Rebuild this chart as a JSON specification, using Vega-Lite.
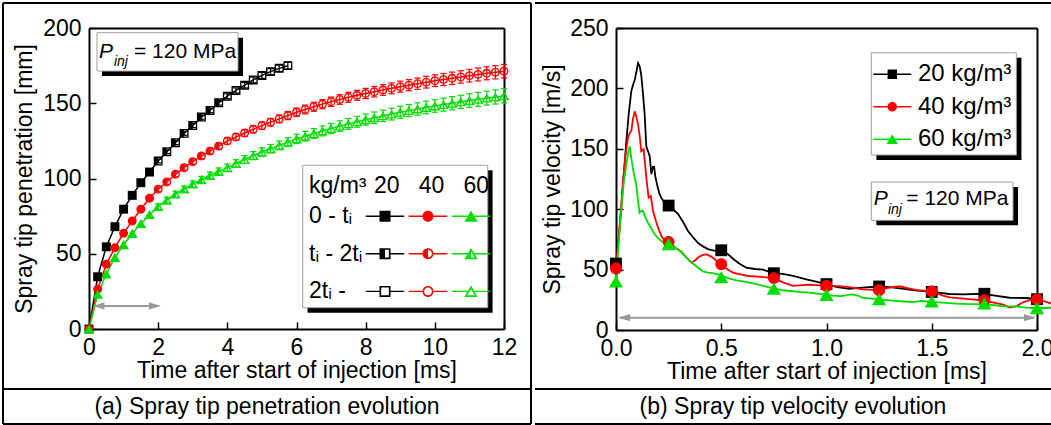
{
  "$schema": "https://vega.github.io/schema/vega-lite/v6.json",
  "background": "white",
  "padding": {"left": 1, "top": 1, "right": 0, "bottom": 0},
  "spacing": 0,
  "datasets": {
    "pen": [
      {"d":"20","t":0,"v":0,"ph":"a","e":0},{"d":"20","t":0.25,"v":34.7,"ph":"a","e":0},{"d":"20","t":0.5,"v":54.6,"ph":"a","e":0},{"d":"20","t":0.75,"v":68,"ph":"a","e":0},{"d":"20","t":1,"v":79.6,"ph":"a","e":0},{"d":"20","t":1.25,"v":88.8,"ph":"a","e":0},{"d":"20","t":1.5,"v":97.2,"ph":"a","e":0},{"d":"20","t":1.75,"v":104.3,"ph":"a","e":0},
      {"d":"20","t":2,"v":111.6,"ph":"b","e":1.2},{"d":"20","t":2.25,"v":117.8,"ph":"b","e":1.2},{"d":"20","t":2.5,"v":123.8,"ph":"b","e":1.3},{"d":"20","t":2.75,"v":130,"ph":"b","e":1.3},{"d":"20","t":3,"v":135.2,"ph":"b","e":1.4},{"d":"20","t":3.25,"v":140.8,"ph":"b","e":1.4},{"d":"20","t":3.5,"v":145.2,"ph":"b","e":1.5},{"d":"20","t":3.75,"v":150.3,"ph":"b","e":1.5},
      {"d":"20","t":4,"v":154.7,"ph":"c","e":1.6},{"d":"20","t":4.25,"v":158.5,"ph":"c","e":1.7},{"d":"20","t":4.5,"v":162,"ph":"c","e":1.8},{"d":"20","t":4.75,"v":165.5,"ph":"c","e":1.9},{"d":"20","t":5,"v":168.5,"ph":"c","e":2},{"d":"20","t":5.25,"v":171,"ph":"c","e":2},{"d":"20","t":5.5,"v":173.2,"ph":"c","e":2.1},{"d":"20","t":5.75,"v":175,"ph":"c","e":2.2},
      {"d":"40","t":0,"v":0,"ph":"a","e":0},{"d":"40","t":0.25,"v":26.5,"ph":"a","e":0},{"d":"40","t":0.5,"v":43,"ph":"a","e":0},{"d":"40","t":0.75,"v":54,"ph":"a","e":0},{"d":"40","t":1,"v":63.6,"ph":"a","e":0},{"d":"40","t":1.25,"v":71.8,"ph":"a","e":0},{"d":"40","t":1.5,"v":79.6,"ph":"a","e":0},{"d":"40","t":1.75,"v":86.9,"ph":"a","e":0},
      {"d":"40","t":2,"v":92.8,"ph":"b","e":1.5},{"d":"40","t":2.25,"v":97.7,"ph":"b","e":1.6},{"d":"40","t":2.5,"v":102.8,"ph":"b","e":1.7},{"d":"40","t":2.75,"v":107.2,"ph":"b","e":1.7},{"d":"40","t":3,"v":111.2,"ph":"b","e":1.8},{"d":"40","t":3.25,"v":114.9,"ph":"b","e":1.9},{"d":"40","t":3.5,"v":118.2,"ph":"b","e":2},{"d":"40","t":3.75,"v":121.5,"ph":"b","e":2},
      {"d":"40","t":4,"v":124.9,"ph":"c","e":2.1},{"d":"40","t":4.25,"v":127.6,"ph":"c","e":2.2},{"d":"40","t":4.5,"v":130.2,"ph":"c","e":2.3},{"d":"40","t":4.75,"v":132.7,"ph":"c","e":2.4},{"d":"40","t":5,"v":135.1,"ph":"c","e":2.5},{"d":"40","t":5.25,"v":137.4,"ph":"c","e":2.5},{"d":"40","t":5.5,"v":139.6,"ph":"c","e":2.6},{"d":"40","t":5.75,"v":141.8,"ph":"c","e":2.7},
      {"d":"40","t":6,"v":144,"ph":"c","e":2.8},{"d":"40","t":6.25,"v":145.9,"ph":"c","e":2.9},{"d":"40","t":6.5,"v":147.7,"ph":"c","e":3},{"d":"40","t":6.75,"v":149.4,"ph":"c","e":3},{"d":"40","t":7,"v":151,"ph":"c","e":3.1},{"d":"40","t":7.25,"v":152.5,"ph":"c","e":3.2},{"d":"40","t":7.5,"v":154,"ph":"c","e":3.3},{"d":"40","t":7.75,"v":155.3,"ph":"c","e":3.3},
      {"d":"40","t":8,"v":156.5,"ph":"c","e":3.4},{"d":"40","t":8.25,"v":157.7,"ph":"c","e":3.5},{"d":"40","t":8.5,"v":158.8,"ph":"c","e":3.5},{"d":"40","t":8.75,"v":159.9,"ph":"c","e":3.6},{"d":"40","t":9,"v":161,"ph":"c","e":3.7},{"d":"40","t":9.25,"v":162,"ph":"c","e":3.7},{"d":"40","t":9.5,"v":163,"ph":"c","e":3.8},{"d":"40","t":9.75,"v":164,"ph":"c","e":3.9},
      {"d":"40","t":10,"v":165,"ph":"c","e":3.9},{"d":"40","t":10.25,"v":165.8,"ph":"c","e":4},{"d":"40","t":10.5,"v":166.6,"ph":"c","e":4.1},{"d":"40","t":10.75,"v":167.5,"ph":"c","e":4.1},{"d":"40","t":11,"v":168.3,"ph":"c","e":4.2},{"d":"40","t":11.25,"v":169.1,"ph":"c","e":4.3},{"d":"40","t":11.5,"v":169.9,"ph":"c","e":4.3},{"d":"40","t":11.75,"v":170.6,"ph":"c","e":4.4},{"d":"40","t":12,"v":171.3,"ph":"c","e":4.5},
      {"d":"60","t":0,"v":0,"ph":"a","e":0},{"d":"60","t":0.25,"v":23,"ph":"a","e":0},{"d":"60","t":0.5,"v":36.5,"ph":"a","e":0},{"d":"60","t":0.75,"v":47.5,"ph":"a","e":0},{"d":"60","t":1,"v":56,"ph":"a","e":0},{"d":"60","t":1.25,"v":63.5,"ph":"a","e":0},{"d":"60","t":1.5,"v":70,"ph":"a","e":0},{"d":"60","t":1.75,"v":76,"ph":"a","e":0},
      {"d":"60","t":2,"v":81.3,"ph":"b","e":1.8},{"d":"60","t":2.25,"v":85.6,"ph":"b","e":1.9},{"d":"60","t":2.5,"v":89.6,"ph":"b","e":2},{"d":"60","t":2.75,"v":93,"ph":"b","e":2},{"d":"60","t":3,"v":96.3,"ph":"b","e":2.1},{"d":"60","t":3.25,"v":99.2,"ph":"b","e":2.2},{"d":"60","t":3.5,"v":102,"ph":"b","e":2.3},{"d":"60","t":3.75,"v":104.7,"ph":"b","e":2.3},
      {"d":"60","t":4,"v":107.2,"ph":"c","e":2.4},{"d":"60","t":4.25,"v":110,"ph":"c","e":2.5},{"d":"60","t":4.5,"v":112.6,"ph":"c","e":2.6},{"d":"60","t":4.75,"v":115.2,"ph":"c","e":2.7},{"d":"60","t":5,"v":117.6,"ph":"c","e":2.8},{"d":"60","t":5.25,"v":119.8,"ph":"c","e":2.8},{"d":"60","t":5.5,"v":122,"ph":"c","e":2.9},{"d":"60","t":5.75,"v":124.2,"ph":"c","e":3},
      {"d":"60","t":6,"v":126.3,"ph":"c","e":3.1},{"d":"60","t":6.25,"v":128.1,"ph":"c","e":3.2},{"d":"60","t":6.5,"v":129.9,"ph":"c","e":3.3},{"d":"60","t":6.75,"v":131.6,"ph":"c","e":3.3},{"d":"60","t":7,"v":133.2,"ph":"c","e":3.4},{"d":"60","t":7.25,"v":134.8,"ph":"c","e":3.5},{"d":"60","t":7.5,"v":136.3,"ph":"c","e":3.6},{"d":"60","t":7.75,"v":137.7,"ph":"c","e":3.6},
      {"d":"60","t":8,"v":139.1,"ph":"c","e":3.7},{"d":"60","t":8.25,"v":140.4,"ph":"c","e":3.8},{"d":"60","t":8.5,"v":141.6,"ph":"c","e":3.8},{"d":"60","t":8.75,"v":142.8,"ph":"c","e":3.9},{"d":"60","t":9,"v":144,"ph":"c","e":4},{"d":"60","t":9.25,"v":145.1,"ph":"c","e":4},{"d":"60","t":9.5,"v":146.2,"ph":"c","e":4.1},{"d":"60","t":9.75,"v":147.2,"ph":"c","e":4.2},
      {"d":"60","t":10,"v":148.2,"ph":"c","e":4.2},{"d":"60","t":10.25,"v":149.1,"ph":"c","e":4.3},{"d":"60","t":10.5,"v":150,"ph":"c","e":4.4},{"d":"60","t":10.75,"v":150.9,"ph":"c","e":4.4},{"d":"60","t":11,"v":151.8,"ph":"c","e":4.5},{"d":"60","t":11.25,"v":152.6,"ph":"c","e":4.6},{"d":"60","t":11.5,"v":153.4,"ph":"c","e":4.6},{"d":"60","t":11.75,"v":154.2,"ph":"c","e":4.7},{"d":"60","t":12,"v":155,"ph":"c","e":4.8}
    ],
    "velL": [
      {"d":"20","t":0,"v":55},{"d":"20","t":0.012,"v":75},{"d":"20","t":0.025,"v":101},{"d":"20","t":0.037,"v":128},{"d":"20","t":0.049,"v":156},{"d":"20","t":0.061,"v":180},{"d":"20","t":0.073,"v":198},{"d":"20","t":0.081,"v":203},{"d":"20","t":0.089,"v":207},{"d":"20","t":0.097,"v":214},{"d":"20","t":0.105,"v":221},{"d":"20","t":0.113,"v":218},{"d":"20","t":0.12,"v":211},{"d":"20","t":0.128,"v":196},{"d":"20","t":0.136,"v":179},{"d":"20","t":0.144,"v":152},{"d":"20","t":0.152,"v":148},{"d":"20","t":0.16,"v":144},{"d":"20","t":0.168,"v":129},{"d":"20","t":0.175,"v":135},{"d":"20","t":0.181,"v":135},{"d":"20","t":0.187,"v":127},{"d":"20","t":0.193,"v":122},{"d":"20","t":0.2,"v":117},{"d":"20","t":0.207,"v":112.5},{"d":"20","t":0.22,"v":108},{"d":"20","t":0.232,"v":105.5},{"d":"20","t":0.25,"v":103},{"d":"20","t":0.27,"v":100},{"d":"20","t":0.295,"v":96},{"d":"20","t":0.32,"v":89},{"d":"20","t":0.342,"v":82},{"d":"20","t":0.365,"v":77},{"d":"20","t":0.39,"v":72},{"d":"20","t":0.415,"v":69},{"d":"20","t":0.437,"v":67},{"d":"20","t":0.46,"v":66},{"d":"20","t":0.485,"v":65.5},{"d":"20","t":0.5,"v":66},{"d":"20","t":0.53,"v":63},{"d":"20","t":0.556,"v":59},{"d":"20","t":0.585,"v":55},{"d":"20","t":0.619,"v":51.6},{"d":"20","t":0.66,"v":50.5},{"d":"20","t":0.698,"v":50},{"d":"20","t":0.746,"v":47},{"d":"20","t":0.79,"v":46.5},{"d":"20","t":0.825,"v":45.5},{"d":"20","t":0.86,"v":44},{"d":"20","t":0.904,"v":42},{"d":"20","t":0.95,"v":40},{"d":"20","t":1,"v":38},{"d":"20","t":1.05,"v":35.5},{"d":"20","t":1.11,"v":34},{"d":"20","t":1.17,"v":35},{"d":"20","t":1.25,"v":36},{"d":"20","t":1.3,"v":35.5},{"d":"20","t":1.35,"v":34.5},{"d":"20","t":1.42,"v":32.8},{"d":"20","t":1.46,"v":32.3},{"d":"20","t":1.5,"v":31.5},{"d":"20","t":1.585,"v":29.8},{"d":"20","t":1.65,"v":29.5},{"d":"20","t":1.743,"v":30},{"d":"20","t":1.8,"v":28.5},{"d":"20","t":1.87,"v":26.7},{"d":"20","t":1.95,"v":26.5},{"d":"20","t":2,"v":25.5},
      {"d":"40","t":0,"v":51},{"d":"40","t":0.015,"v":80},{"d":"40","t":0.033,"v":123},{"d":"40","t":0.045,"v":145},{"d":"40","t":0.057,"v":159},{"d":"40","t":0.065,"v":163},{"d":"40","t":0.073,"v":165},{"d":"40","t":0.081,"v":175},{"d":"40","t":0.089,"v":181},{"d":"40","t":0.097,"v":176},{"d":"40","t":0.105,"v":170},{"d":"40","t":0.113,"v":160},{"d":"40","t":0.12,"v":148},{"d":"40","t":0.131,"v":149.6},{"d":"40","t":0.138,"v":138},{"d":"40","t":0.144,"v":126},{"d":"40","t":0.155,"v":109.5},{"d":"40","t":0.165,"v":111},{"d":"40","t":0.176,"v":98.5},{"d":"40","t":0.19,"v":90},{"d":"40","t":0.2,"v":84.7},{"d":"40","t":0.215,"v":78},{"d":"40","t":0.231,"v":74},{"d":"40","t":0.25,"v":73},{"d":"40","t":0.27,"v":70},{"d":"40","t":0.29,"v":67},{"d":"40","t":0.31,"v":65},{"d":"40","t":0.335,"v":60},{"d":"40","t":0.358,"v":55.7},{"d":"40","t":0.375,"v":57.5},{"d":"40","t":0.39,"v":60},{"d":"40","t":0.41,"v":62},{"d":"40","t":0.43,"v":62.6},{"d":"40","t":0.45,"v":61},{"d":"40","t":0.469,"v":58.5},{"d":"40","t":0.5,"v":54.5},{"d":"40","t":0.53,"v":50},{"d":"40","t":0.556,"v":47.5},{"d":"40","t":0.58,"v":46.5},{"d":"40","t":0.63,"v":44.7},{"d":"40","t":0.69,"v":44},{"d":"40","t":0.746,"v":43},{"d":"40","t":0.8,"v":39},{"d":"40","t":0.84,"v":36.5},{"d":"40","t":0.92,"v":37.5},{"d":"40","t":1,"v":36.5},{"d":"40","t":1.06,"v":36.4},{"d":"40","t":1.11,"v":35.5},{"d":"40","t":1.17,"v":33.7},{"d":"40","t":1.245,"v":33},{"d":"40","t":1.3,"v":35},{"d":"40","t":1.347,"v":36.2},{"d":"40","t":1.39,"v":34.5},{"d":"40","t":1.43,"v":33},{"d":"40","t":1.5,"v":32},{"d":"40","t":1.553,"v":28.5},{"d":"40","t":1.585,"v":27},{"d":"40","t":1.65,"v":26},{"d":"40","t":1.743,"v":24.6},{"d":"40","t":1.8,"v":22.5},{"d":"40","t":1.84,"v":21},{"d":"40","t":1.87,"v":18.5},{"d":"40","t":1.9,"v":19.5},{"d":"40","t":1.93,"v":22.6},{"d":"40","t":1.96,"v":24.5},{"d":"40","t":2,"v":25.4},{"d":"40","t":2.04,"v":23.5},{"d":"40","t":2.076,"v":21.3},
      {"d":"60","t":0,"v":40},{"d":"60","t":0.012,"v":70},{"d":"60","t":0.025,"v":101},{"d":"60","t":0.037,"v":122},{"d":"60","t":0.049,"v":137},{"d":"60","t":0.057,"v":146},{"d":"60","t":0.065,"v":152},{"d":"60","t":0.073,"v":142},{"d":"60","t":0.081,"v":133},{"d":"60","t":0.089,"v":126},{"d":"60","t":0.096,"v":120.6},{"d":"60","t":0.104,"v":108},{"d":"60","t":0.112,"v":97},{"d":"60","t":0.12,"v":98.5},{"d":"60","t":0.128,"v":98.5},{"d":"60","t":0.14,"v":93},{"d":"60","t":0.152,"v":88.8},{"d":"60","t":0.168,"v":84},{"d":"60","t":0.184,"v":79.2},{"d":"60","t":0.2,"v":76},{"d":"60","t":0.215,"v":73.7},{"d":"60","t":0.247,"v":71},{"d":"60","t":0.27,"v":69},{"d":"60","t":0.295,"v":66.8},{"d":"60","t":0.32,"v":62.5},{"d":"60","t":0.342,"v":58.5},{"d":"60","t":0.365,"v":55},{"d":"60","t":0.39,"v":51.6},{"d":"60","t":0.413,"v":48.5},{"d":"60","t":0.437,"v":47.5},{"d":"60","t":0.46,"v":47},{"d":"60","t":0.485,"v":46},{"d":"60","t":0.508,"v":44.5},{"d":"60","t":0.54,"v":42.5},{"d":"60","t":0.572,"v":41},{"d":"60","t":0.61,"v":40},{"d":"60","t":0.65,"v":38.5},{"d":"60","t":0.7,"v":36.5},{"d":"60","t":0.746,"v":34.5},{"d":"60","t":0.79,"v":33},{"d":"60","t":0.825,"v":32.3},{"d":"60","t":0.87,"v":31.5},{"d":"60","t":0.92,"v":30.9},{"d":"60","t":0.96,"v":30},{"d":"60","t":1,"v":29},{"d":"60","t":1.03,"v":28.5},{"d":"60","t":1.07,"v":28.1},{"d":"60","t":1.12,"v":29.5},{"d":"60","t":1.15,"v":28.5},{"d":"60","t":1.17,"v":26.7},{"d":"60","t":1.245,"v":25.4},{"d":"60","t":1.3,"v":24.5},{"d":"60","t":1.35,"v":23.8},{"d":"60","t":1.41,"v":23},{"d":"60","t":1.45,"v":24},{"d":"60","t":1.5,"v":23.3},{"d":"60","t":1.55,"v":22.6},{"d":"60","t":1.617,"v":21.8},{"d":"60","t":1.68,"v":21.5},{"d":"60","t":1.743,"v":21.5},{"d":"60","t":1.8,"v":20.5},{"d":"60","t":1.84,"v":19.5},{"d":"60","t":1.9,"v":19.5},{"d":"60","t":1.95,"v":18.5},{"d":"60","t":2,"v":18},{"d":"60","t":2.04,"v":18.2},{"d":"60","t":2.076,"v":18.5}
    ],
    "velM": [
      {"d":"20","t":0,"v":55},{"d":"20","t":0.25,"v":103},{"d":"20","t":0.5,"v":66},{"d":"20","t":0.75,"v":47},{"d":"20","t":1,"v":38},{"d":"20","t":1.25,"v":36},{"d":"20","t":1.5,"v":31.5},{"d":"20","t":1.75,"v":30},{"d":"20","t":2,"v":25.5},
      {"d":"40","t":0,"v":51},{"d":"40","t":0.25,"v":73},{"d":"40","t":0.5,"v":54.5},{"d":"40","t":0.75,"v":43},{"d":"40","t":1,"v":36.5},{"d":"40","t":1.25,"v":33},{"d":"40","t":1.5,"v":32},{"d":"40","t":1.75,"v":24.6},{"d":"40","t":2,"v":25.4},
      {"d":"60","t":0,"v":40},{"d":"60","t":0.25,"v":71},{"d":"60","t":0.5,"v":43.5},{"d":"60","t":0.75,"v":34},{"d":"60","t":1,"v":29},{"d":"60","t":1.25,"v":25.4},{"d":"60","t":1.5,"v":23.5},{"d":"60","t":1.75,"v":21.8},{"d":"60","t":2,"v":18}
    ]
  },
  "hconcat": [
    {
      "width": 415,
      "height": 301,
      "resolve": {"scale": {"fill": "independent", "shape": "independent"}},
      "layer": [
        {"data": {"values": [{}]}, "mark": {"type": "rect", "fill": "black"},
         "encoding": {"x": {"datum": 0.376}, "x2": {"datum": 4.453}, "y": {"datum": 193.6}, "y2": {"datum": 168.1}}},
        {"data": {"values": [{}]}, "mark": {"type": "rect", "fill": "white", "stroke": "#a0a0a0", "strokeWidth": 1},
         "encoding": {"x": {"datum": 0.231}, "x2": {"datum": 4.308}, "y": {"datum": 196.9}, "y2": {"datum": 171.4}}},
        {"data": {"values": [{}]}, "mark": {"type": "rect", "fill": "black"},
         "encoding": {"x": {"datum": 6.32}, "x2": {"datum": 11.67}, "y": {"datum": 105.5}, "y2": {"datum": 10.8}}},
        {"data": {"values": [{}]}, "mark": {"type": "rect", "fill": "white", "stroke": "#a0a0a0", "strokeWidth": 1},
         "encoding": {"x": {"datum": 6.18}, "x2": {"datum": 11.53}, "y": {"datum": 108.8}, "y2": {"datum": 14.15}}},
        {
          "data": {"name": "pen"},
          "mark": {"type": "line", "strokeWidth": 1.5},
          "encoding": {
            "x": {"field": "t", "type": "quantitative", "scale": {"domain": [0, 12], "nice": false},
                  "axis": {"values": [0, 2, 4, 6, 8, 10, 12], "title": "Time after start of injection [ms]", "labelPadding": 14, "titlePadding": 0, "labelFlush": false, "labelOverlap": false,
                           "grid": true, "gridColor": "black", "gridWidth": 2, "gridOpacity": {"condition": {"test": "datum.value == 12", "value": 1}, "value": 0}}},
            "y": {"field": "v", "type": "quantitative", "scale": {"domain": [0, 200], "nice": false},
                  "axis": {"values": [0, 50, 100, 150, 200], "title": "Spray tip penetration [mm]", "labelPadding": 15, "titlePadding": 6, "labelFlush": false, "labelOverlap": false,
                           "grid": true, "gridColor": "black", "gridWidth": 2, "gridOpacity": {"condition": {"test": "datum.value == 200", "value": 1}, "value": 0}}},
            "color": {"field": "d", "type": "nominal", "scale": {"range": ["#000000", "#ff0000", "#00dd00"]}, "legend": null}
          }
        },
        {
          "data": {"name": "pen"},
          "transform": [{"calculate": "datum.d + datum.ph", "as": "k"}],
          "mark": {"type": "point", "filled": true, "size": 80, "strokeWidth": 0, "opacity": 1},
          "encoding": {
            "x": {"field": "t", "type": "quantitative"},
            "y": {"field": "v", "type": "quantitative"},
            "fill": {"field": "k", "type": "nominal",
              "scale": {"domain": ["20a","20b","20c","40a","40b","40c","60a","60b","60c"],
                        "range": ["#000000","#000000","#000000","#ff0000","#ff0000","#ff0000","#00dd00","#00dd00","#00dd00"]},
              "legend": null},
            "shape": {"field": "k", "type": "nominal",
              "scale": {"domain": ["20a","20b","20c","40a","40b","40c","60a","60b","60c"],
                        "range": ["M-1,-1H1V1H-1Z",
                                  "M-1,-1H1V1H-1Z M-0.7,-0.7V0.7H0.7V-0.7Z M-0.7,-0.7H0V0.7H-0.7Z",
                                  "M-1,-1H1V1H-1Z M-0.7,-0.7V0.7H0.7V-0.7Z",
                                  "M1,0A1,1 0 1,1 -1,0A1,1 0 1,1 1,0Z",
                                  "M1,0A1,1 0 1,1 -1,0A1,1 0 1,1 1,0Z M0.7,0A0.7,0.7 0 1,0 -0.7,0A0.7,0.7 0 1,0 0.7,0Z M0,-0.7A0.7,0.7 0 0,0 0,0.7Z",
                                  "M1,0A1,1 0 1,1 -1,0A1,1 0 1,1 1,0Z M0.7,0A0.7,0.7 0 1,0 -0.7,0A0.7,0.7 0 1,0 0.7,0Z",
                                  "M0,-1.05L1.2,1H-1.2Z",
                                  "M0,-1.05L1.2,1H-1.2Z M0,-0.45L-0.68,0.7H0.68Z M0,-0.45V0.7H-0.68Z",
                                  "M0,-1.05L1.2,1H-1.2Z M0,-0.45L-0.68,0.7H0.68Z"]},
              "legend": null},
            "opacity": {"field": "ph", "type": "ordinal",
              "scale": {"domain": ["a", "b", "c"], "range": [1, 1, 1]},
              "legend": {
                "orient": "none", "legendX": 220, "legendY": 146.5, "padding": 0,
                "rowPadding": 13.7, "symbolSize": 0, "symbolStrokeWidth": 0, "labelOffset": -23, "labelFontSize": 23,
                "labelExpr": "datum.value == 'a' ? '0 - tᵢ' : datum.value == 'b' ? 'tᵢ - 2tᵢ' : '2tᵢ -'",
                "title": "kg/m³", "titleFontSize": 23, "titleAnchor": "start", "titlePadding": 7
              }
            }
          }
        },
        {
          "data": {"name": "pen"},
          "transform": [{"filter": "datum.t < 0"}, {"calculate": "datum.d + datum.ph", "as": "k"}],
          "mark": {"type": "point", "filled": true, "size": 121, "strokeWidth": 0, "opacity": 1},
          "encoding": {
            "x": {"field": "t", "type": "quantitative"},
            "y": {"field": "v", "type": "quantitative"},
            "fill": {"field": "k", "type": "nominal",
              "scale": {"domain": ["20a","20b","20c","40a","40b","40c","60a","60b","60c"],
                        "range": ["#000000","#000000","#000000","#ff0000","#ff0000","#ff0000","#00dd00","#00dd00","#00dd00"]},
              "legend": {
                "orient": "none", "legendX": 284.5, "legendY": 146.5, "padding": 0,
                "columns": 3, "columnPadding": 4, "rowPadding": 13.7, "gridAlign": "all",
                "symbolSize": 121, "symbolStrokeWidth": 0,
                "labelExpr": "''", "labelOffset": 0, "labelFontSize": 23,
                "title": "20\u00a0\u00a0\u00a040\u00a0\u00a0\u00a060", "titleFontSize": 23, "titleAnchor": "middle", "titlePadding": 7
              }
            },
            "shape": {"field": "k", "type": "nominal",
              "scale": {"domain": ["20a","20b","20c","40a","40b","40c","60a","60b","60c"],
                        "range": ["M-1,-1H1V1H-1Z M-3.5,-0.13H-1V0.13H-3.5Z M1,-0.13H3.5V0.13H1Z",
                                  "M-1,-1H1V1H-1Z M-0.7,-0.7V0.7H0.7V-0.7Z M-0.7,-0.7H0V0.7H-0.7Z M-3.5,-0.13H-1V0.13H-3.5Z M1,-0.13H3.5V0.13H1Z",
                                  "M-1,-1H1V1H-1Z M-0.7,-0.7V0.7H0.7V-0.7Z M-3.5,-0.13H-1V0.13H-3.5Z M1,-0.13H3.5V0.13H1Z",
                                  "M1,0A1,1 0 1,1 -1,0A1,1 0 1,1 1,0Z M-3.5,-0.13H-1V0.13H-3.5Z M1,-0.13H3.5V0.13H1Z",
                                  "M1,0A1,1 0 1,1 -1,0A1,1 0 1,1 1,0Z M0.7,0A0.7,0.7 0 1,0 -0.7,0A0.7,0.7 0 1,0 0.7,0Z M0,-0.7A0.7,0.7 0 0,0 0,0.7Z M-3.5,-0.13H-1V0.13H-3.5Z M1,-0.13H3.5V0.13H1Z",
                                  "M1,0A1,1 0 1,1 -1,0A1,1 0 1,1 1,0Z M0.7,0A0.7,0.7 0 1,0 -0.7,0A0.7,0.7 0 1,0 0.7,0Z M-3.5,-0.13H-1V0.13H-3.5Z M1,-0.13H3.5V0.13H1Z",
                                  "M0,-1.05L1.2,1H-1.2Z M-3.5,-0.13H-0.6V0.13H-3.5Z M0.6,-0.13H3.5V0.13H0.6Z",
                                  "M0,-1.05L1.2,1H-1.2Z M0,-0.45L-0.68,0.7H0.68Z M0,-0.45V0.7H-0.68Z M-3.5,-0.13H-0.6V0.13H-3.5Z M0.6,-0.13H3.5V0.13H0.6Z",
                                  "M0,-1.05L1.2,1H-1.2Z M0,-0.45L-0.68,0.7H0.68Z M-3.5,-0.13H-0.6V0.13H-3.5Z M0.6,-0.13H3.5V0.13H0.6Z"]}
            }
          }
        },
        {
          "data": {"name": "pen"},
          "transform": [{"filter": "datum.e > 0"}, {"calculate": "datum.v - datum.e", "as": "lo"}, {"calculate": "datum.v + datum.e", "as": "hi"}],
          "mark": {"type": "rule", "strokeWidth": 1.2},
          "encoding": {
            "x": {"field": "t", "type": "quantitative"},
            "y": {"field": "lo", "type": "quantitative"},
            "y2": {"field": "hi"},
            "color": {"field": "d", "type": "nominal", "legend": null}
          }
        },
        {
          "data": {"name": "pen"},
          "transform": [{"filter": "datum.e > 0"}, {"calculate": "datum.v - datum.e", "as": "lo"}],
          "mark": {"type": "point", "shape": "stroke", "size": 40, "strokeWidth": 1.2, "filled": false, "opacity": 1},
          "encoding": {
            "x": {"field": "t", "type": "quantitative"},
            "y": {"field": "lo", "type": "quantitative"},
            "color": {"field": "d", "type": "nominal", "legend": null}
          }
        },
        {
          "data": {"name": "pen"},
          "transform": [{"filter": "datum.e > 0"}, {"calculate": "datum.v + datum.e", "as": "hi"}],
          "mark": {"type": "point", "shape": "stroke", "size": 40, "strokeWidth": 1.2, "filled": false, "opacity": 1},
          "encoding": {
            "x": {"field": "t", "type": "quantitative"},
            "y": {"field": "hi", "type": "quantitative"},
            "color": {"field": "d", "type": "nominal", "legend": null}
          }
        },
        {"data": {"values": [{}]}, "mark": {"type": "rule", "color": "#999999", "strokeWidth": 2},
         "encoding": {"x": {"datum": 0.15}, "x2": {"datum": 2.0}, "y": {"datum": 15.3}}},
        {"data": {"values": [{}]}, "mark": {"type": "point", "shape": "M0,0L2,-0.6L2,0.6Z", "size": 144, "filled": true, "color": "#999999", "opacity": 1},
         "encoding": {"x": {"datum": 0.1}, "y": {"datum": 15.3}}},
        {"data": {"values": [{}]}, "mark": {"type": "point", "shape": "M0,0L-2,-0.6L-2,0.6Z", "size": 144, "filled": true, "color": "#999999", "opacity": 1},
         "encoding": {"x": {"datum": 2.08}, "y": {"datum": 15.3}}},
        {"data": {"values": [{}]}, "mark": {"type": "text", "align": "left", "baseline": "alphabetic", "fontSize": 21, "fontStyle": "italic"},
         "encoding": {"x": {"datum": 0.29}, "y": {"datum": 180.3}, "text": {"value": "P"}}},
        {"data": {"values": [{}]}, "mark": {"type": "text", "align": "left", "baseline": "alphabetic", "fontSize": 14, "fontStyle": "italic"},
         "encoding": {"x": {"datum": 0.72}, "y": {"datum": 174.8}, "text": {"value": "inj"}}},
        {"data": {"values": [{}]}, "mark": {"type": "text", "align": "left", "baseline": "alphabetic", "fontSize": 21},
         "encoding": {"x": {"datum": 1.3}, "y": {"datum": 180.3}, "text": {"value": "= 120 MPa"}}},
        {"data": {"values": [{}]}, "mark": {"type": "text", "align": "center", "baseline": "middle", "fontSize": 23},
         "encoding": {"x": {"datum": 5.147}, "y": {"datum": -51.5}, "text": {"value": "(a) Spray tip penetration evolution"}}},
        {"data": {"values": [{}]}, "mark": {"type": "rule", "color": "black", "strokeWidth": 2},
         "encoding": {"x": {"datum": -2.4868}, "y": {"datum": 216.61}, "y2": {"datum": -63.12}}},
        {"data": {"values": [{}]}, "mark": {"type": "rule", "color": "black", "strokeWidth": 2},
         "encoding": {"x": {"datum": -2.4868}, "x2": {"datum": 12.781}, "y": {"datum": 216.61}}},
        {"data": {"values": [{}]}, "mark": {"type": "rule", "color": "black", "strokeWidth": 2},
         "encoding": {"x": {"datum": -2.4868}, "x2": {"datum": 12.781}, "y": {"datum": -39.87}}},
        {"data": {"values": [{}]}, "mark": {"type": "rule", "color": "black", "strokeWidth": 2},
         "encoding": {"x": {"datum": -2.4868}, "x2": {"datum": 12.781}, "y": {"datum": -63.12}}},
        {"data": {"values": [{}]}, "mark": {"type": "rule", "color": "black", "strokeWidth": 2},
         "encoding": {"x": {"datum": 12.781}, "y": {"datum": 216.61}, "y2": {"datum": -63.12}}}
      ]
    },
    {
      "width": 421,
      "height": 302,
      "resolve": {"scale": {"fill": "independent", "shape": "independent"}},
      "layer": [
        {"data": {"values": [{}]}, "mark": {"type": "rect", "fill": "black"},
         "encoding": {"x": {"datum": 1.237}, "x2": {"datum": 1.926}, "y": {"datum": 225.4}, "y2": {"datum": 140.7}}},
        {"data": {"values": [{}]}, "mark": {"type": "rect", "fill": "white", "stroke": "#a0a0a0", "strokeWidth": 1},
         "encoding": {"x": {"datum": 1.213}, "x2": {"datum": 1.902}, "y": {"datum": 229.5}, "y2": {"datum": 144.9}}},
        {"data": {"values": [{}]}, "mark": {"type": "rect", "fill": "black"},
         "encoding": {"x": {"datum": 1.237}, "x2": {"datum": 1.91}, "y": {"datum": 118.4}, "y2": {"datum": 86.7}}},
        {"data": {"values": [{}]}, "mark": {"type": "rect", "fill": "white", "stroke": "#a0a0a0", "strokeWidth": 1},
         "encoding": {"x": {"datum": 1.213}, "x2": {"datum": 1.886}, "y": {"datum": 122.5}, "y2": {"datum": 90.8}}},
        {
          "data": {"name": "velL"},
          "mark": {"type": "line", "strokeWidth": 1.8},
          "encoding": {
            "x": {"field": "t", "type": "quantitative", "scale": {"domain": [0, 2], "nice": false},
                  "axis": {"values": [0, 0.5, 1, 1.5, 2], "format": ".1f", "title": "Time after start of injection [ms]", "labelPadding": 14, "titlePadding": 0, "labelFlush": false, "labelOverlap": false,
                           "grid": true, "gridColor": "black", "gridWidth": 2, "gridOpacity": {"condition": {"test": "datum.value == 2", "value": 1}, "value": 0}}},
            "y": {"field": "v", "type": "quantitative", "scale": {"domain": [0, 250], "nice": false},
                  "axis": {"values": [0, 50, 100, 150, 200, 250], "title": "Spray tip velocity [m/s]", "labelPadding": 15, "titlePadding": 5, "labelFlush": false, "labelOverlap": false,
                           "grid": true, "gridColor": "black", "gridWidth": 2, "gridOpacity": {"condition": {"test": "datum.value == 250", "value": 1}, "value": 0}}},
            "color": {"field": "d", "type": "nominal", "scale": {"range": ["#000000", "#ff0000", "#00dd00"]}, "legend": null}
          }
        },
        {
          "data": {"name": "velM"},
          "mark": {"type": "point", "filled": true, "size": 140, "strokeWidth": 0, "opacity": 1},
          "encoding": {
            "x": {"field": "t", "type": "quantitative"},
            "y": {"field": "v", "type": "quantitative"},
            "fill": {"field": "d", "type": "nominal",
              "scale": {"domain": ["20", "40", "60"], "range": ["#000000", "#ff0000", "#00dd00"]}, "legend": null},
            "shape": {"field": "d", "type": "nominal",
              "scale": {"domain": ["20", "40", "60"], "range": ["M-1,-1H1V1H-1Z", "M1,0A1,1 0 1,1 -1,0A1,1 0 1,1 1,0Z", "M0,-1.05L1.2,1H-1.2Z"]},
              "legend": null}
          }
        },
        {
          "data": {"name": "velM"},
          "transform": [{"filter": "datum.t < 0"}],
          "mark": {"type": "point", "filled": true, "size": 90, "strokeWidth": 0, "opacity": 1},
          "encoding": {
            "x": {"field": "t", "type": "quantitative"},
            "y": {"field": "v", "type": "quantitative"},
            "fill": {"field": "d", "type": "nominal",
              "scale": {"domain": ["20", "40", "60"], "range": ["#000000", "#ff0000", "#00dd00"]},
              "legend": {
                "orient": "none", "legendX": 264.3, "legendY": 34.3, "padding": 0,
                "title": null, "rowPadding": 8.5, "symbolSize": 90, "symbolStrokeWidth": 0,
                "labelFontSize": 24, "labelOffset": 13.7,
                "labelExpr": "datum.label + ' kg/m³'"
              }
            },
            "shape": {"field": "d", "type": "nominal",
              "scale": {"domain": ["20", "40", "60"],
                        "range": ["M-1,-1H1V1H-1Z M-4,-0.15H-1V0.15H-4Z M1,-0.15H4V0.15H1Z",
                                  "M1,0A1,1 0 1,1 -1,0A1,1 0 1,1 1,0Z M-4,-0.15H-1V0.15H-4Z M1,-0.15H4V0.15H1Z",
                                  "M0,-1.05L1.2,1H-1.2Z M-4,-0.15H-0.6V0.15H-4Z M0.6,-0.15H4V0.15H0.6Z"]}
            }
          }
        },
        {"data": {"values": [{}]}, "mark": {"type": "rule", "color": "#999999", "strokeWidth": 2},
         "encoding": {"x": {"datum": 0.02}, "x2": {"datum": 1.985}, "y": {"datum": 10.2}}},
        {"data": {"values": [{}]}, "mark": {"type": "point", "shape": "M0,0L2,-0.6L2,0.6Z", "size": 144, "filled": true, "color": "#999999", "opacity": 1},
         "encoding": {"x": {"datum": 0.01}, "y": {"datum": 10.2}}},
        {"data": {"values": [{}]}, "mark": {"type": "point", "shape": "M0,0L-2,-0.6L-2,0.6Z", "size": 144, "filled": true, "color": "#999999", "opacity": 1},
         "encoding": {"x": {"datum": 1.995}, "y": {"datum": 10.2}}},
        {"data": {"values": [{}]}, "mark": {"type": "text", "align": "left", "baseline": "alphabetic", "fontSize": 21, "fontStyle": "italic"},
         "encoding": {"x": {"datum": 1.224}, "y": {"datum": 103.5}, "text": {"value": "P"}}},
        {"data": {"values": [{}]}, "mark": {"type": "text", "align": "left", "baseline": "alphabetic", "fontSize": 14, "fontStyle": "italic"},
         "encoding": {"x": {"datum": 1.292}, "y": {"datum": 95.8}, "text": {"value": "inj"}}},
        {"data": {"values": [{}]}, "mark": {"type": "text", "align": "left", "baseline": "alphabetic", "fontSize": 21},
         "encoding": {"x": {"datum": 1.379}, "y": {"datum": 103.5}, "text": {"value": "= 120 MPa"}}},
        {"data": {"values": [{}]}, "mark": {"type": "text", "align": "center", "baseline": "middle", "fontSize": 23},
         "encoding": {"x": {"datum": 0.8409}, "y": {"datum": -63.33}, "text": {"value": "(b) Spray tip velocity evolution"}}},
        {"data": {"values": [{}]}, "mark": {"type": "rule", "color": "black", "strokeWidth": 2},
         "encoding": {"x": {"datum": -0.3848}, "x2": {"datum": 2.076}, "y": {"datum": 270.7}}},
        {"data": {"values": [{}]}, "mark": {"type": "rule", "color": "black", "strokeWidth": 2},
         "encoding": {"x": {"datum": -0.3848}, "x2": {"datum": 2.076}, "y": {"datum": -48.84}}},
        {"data": {"values": [{}]}, "mark": {"type": "rule", "color": "black", "strokeWidth": 2},
         "encoding": {"x": {"datum": -0.3848}, "x2": {"datum": 2.076}, "y": {"datum": -77.81}}},
        {"data": {"values": [{}]}, "mark": {"type": "rule", "color": "black", "strokeWidth": 2},
         "encoding": {"x": {"datum": 2.0713}, "y": {"datum": 270.7}, "y2": {"datum": -77.81}}}
      ]
    }
  ],
  "config": {
    "font": "Liberation Sans",
    "view": {"stroke": null},
    "axis": {
      "domain": true, "domainColor": "black", "domainWidth": 2,
      "ticks": true, "tickSize": -7, "tickWidth": 1.5, "tickColor": "black",
      "labelFont": "Liberation Sans", "labelFontSize": 23, "labelColor": "black",
      "titleFont": "Liberation Sans", "titleFontSize": 23, "titleFontWeight": "normal", "titleColor": "black"
    },
    "legend": {
      "labelFont": "Liberation Sans", "titleFont": "Liberation Sans", "labelColor": "black", "titleColor": "black", "titleFontWeight": "normal"
    },
    "text": {"font": "Liberation Sans", "color": "black"}
  }
}
